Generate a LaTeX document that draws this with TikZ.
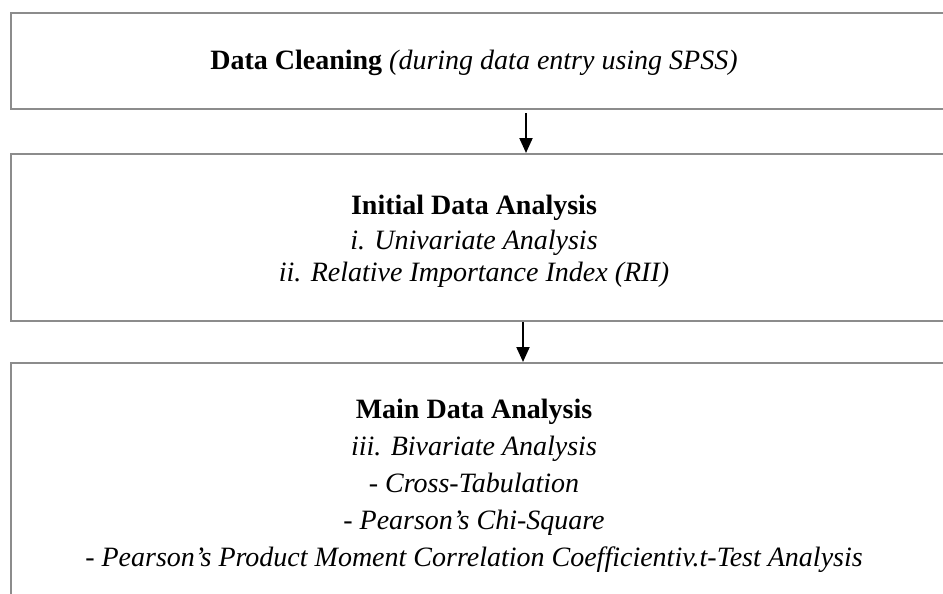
\documentclass[tikz,border=0pt]{standalone}
\usepackage{fontspec}
\setmainfont{Liberation Serif}
\usetikzlibrary{arrows.meta}
\definecolor{boxgray}{HTML}{8C8C8C}
\begin{document}
\begin{tikzpicture}[x=1pt,y=-1pt,
  box/.style={draw=boxgray, line width=2pt, inner sep=0pt},
  txt/.style={font=\fontsize{28}{33}\selectfont, anchor=base, inner sep=0pt},
  flow/.style={-{Triangle[length=15pt,width=13pt]}, line width=2pt, draw=black}]
\useasboundingbox[fill=white] (0,0) rectangle (943,594);
\node[box, minimum width=960pt, minimum height=96pt] (b1) at (491,61) {};
\node[box, minimum width=960pt, minimum height=167pt] (b2) at (491,237.5) {};
\node[box, minimum width=960pt, minimum height=287pt] (b3) at (491,506.5) {};
\coordinate (ax1) at (526,0);
\coordinate (ax2) at (523,0);
\draw[flow] ([yshift=-3pt]b1.south -| ax1) -- (b2.north -| ax1);
\draw[flow] (b2.south -| ax2) -- (b3.north -| ax2);
\node[txt] (t1) at (474,70) {\textbf{Data Cleaning} \textit{(during data entry using SPSS)}};
\node[txt] (t2a) at (474,214) {\textbf{Initial Data Analysis}};
\node[txt] (t2b) at (474,249) {\textit{i. Univariate Analysis}};
\node[txt] (t2c) at (474,281) {\textit{ii. Relative Importance Index (RII)}};
\node[txt] (t3a) at (474,418) {\textbf{Main Data Analysis}};
\node[txt] (t3b) at (474,455) {\textit{iii. Bivariate Analysis}};
\node[txt] (t3c) at (474,492) {\textit{- Cross-Tabulation}};
\node[txt] (t3d) at (474,529) {\textit{- Pearson’s Chi-Square}};
\node[txt] (t3e) at (474,566) {\textit{- Pearson’s Product Moment Correlation Coefficientiv.t-Test Analysis}};
\end{tikzpicture}
\end{document}
